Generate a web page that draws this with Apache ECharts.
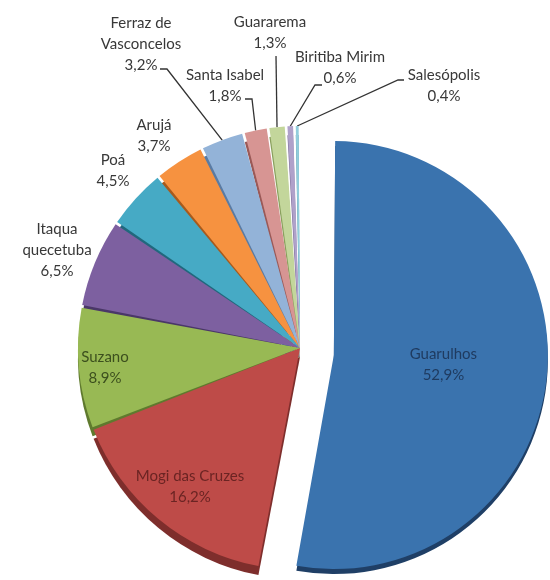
<!DOCTYPE html>
<html><head><meta charset="utf-8">
<script src="https://cdn.jsdelivr.net/npm/echarts@6/dist/echarts.min.js"></script>
<style>html,body{margin:0;padding:0;background:#fff}#c{width:550px;height:580px}</style>
</head><body><div id="c"></div>
<script>
// ---- data ----
const categories = ['Guarulhos', 'Mogi das Cruzes', 'Suzano', 'Itaqua\nquecetuba', 'Poá', 'Arujá',
  'Ferraz de\nVasconcelos', 'Santa Isabel', 'Guararema', 'Biritiba Mirim', 'Salesópolis'];
const values = [52.9, 16.2, 8.9, 6.5, 4.5, 3.7, 3.2, 1.8, 1.3, 0.6, 0.4];

// ---- styles ----
const faceColors = ['#3A73AE', '#BE4B48', '#98B954', '#7D60A0', '#46AAC5', '#F69240',
  '#93B3D8', '#D79593', '#C3D69B', '#AFA1CA', '#92CDDC'];
const sideColors = ['#1F3F66', '#7E2E2C', '#5F7A2E', '#4A3768', '#21687D', '#A85A1C',
  '#5A7BA3', '#9A5957', '#8AA05E', '#7C6C99', '#5A9AAB'];
const labelColors = ['#1F3B60', '#6B2423', '#3C4F1E', '#383838', '#383838', '#383838',
  '#383838', '#383838', '#383838', '#383838', '#383838'];
const insideLabel = [true, true, true, false, false, false, false, false, false, false, false];
const hasLeader = [false, false, false, false, false, false, true, true, true, true, true];

// label layout (text block centres) and leader-line bends
const labelSpots = [[500, 375], [190, 487], [105, 368], [57, 250], [113, 171], [154, 136],
  [141, 44], [225, 86], [270, 33], [340, 68], [444, 86]];
const leaderBends = {
  6: [[167, 69], [160, 69]],
  7: [[252, 99], [245, 99]],
  8: [[276, 56]],
  9: [[315, 85], [322, 85]],
  10: [[398, 80], [404, 80]]
};

const fmt = v => v.toFixed(1).replace('.', ',') + '%';
const FONT = 'Lato, "Open Sans", sans-serif';
const FS = 15;
const PAD = 0.7;
const CX = 300, CY = 348;

function buildData(visible, colors, withLabel, selectFirst) {
  return values.map((v, i) => {
    const vis = visible(i);
    const d = {
      name: categories[i],
      value: v,
      itemStyle: { color: vis ? colors[i] : 'rgba(0,0,0,0)' },
      label: { show: withLabel && vis, color: labelColors[i] },
      labelLine: { show: withLabel && vis && hasLeader[i] }
    };
    if (selectFirst && i === 0) d.selected = true;
    return d;
  });
}

const common = {
  type: 'pie',
  startAngle: 90,
  clockwise: true,
  padAngle: PAD,
  avoidLabelOverlap: false,
  animation: false,
  emphasis: { disabled: true },
  tooltip: { show: false }
};

const rest = i => i !== 0;
const main = i => i === 0;

const option = {
  backgroundColor: '#ffffff',
  series: [
    Object.assign({}, common, {
      name: 'depthRest', center: [CX, CY + 9], radius: 222, z: 1,
      selectedMode: false, label: { show: false }, labelLine: { show: false },
      data: buildData(rest, sideColors, false, false)
    }),
    Object.assign({}, common, {
      name: 'depthMain', center: [CX, CY + 9], radius: 214, z: 1,
      selectedMode: 'single', selectedOffset: 34,
      label: { show: false }, labelLine: { show: false },
      data: buildData(main, sideColors, false, true)
    }),
    Object.assign({}, common, {
      name: 'faceMain', center: [CX, CY + 4], radius: 214, z: 2,
      selectedMode: 'single', selectedOffset: 34,
      label: {
        show: true, position: 'inside', fontFamily: FONT, fontSize: FS, lineHeight: 21,
        formatter: p => p.name + '\n' + fmt(p.value)
      },
      labelLine: { show: false },
      labelLayout: p => ({ x: labelSpots[p.dataIndex][0], y: labelSpots[p.dataIndex][1], align: 'center', verticalAlign: 'middle' }),
      data: buildData(main, faceColors, true, true)
    }),
    Object.assign({}, common, {
      name: 'faceRest', center: [CX, CY], radius: 222, z: 3,
      selectedMode: false,
      label: {
        show: true, position: 'outside', fontFamily: FONT, fontSize: FS, lineHeight: 21,
        formatter: p => p.name + '\n' + fmt(p.value)
      },
      labelLine: { show: true, lineStyle: { color: '#333333', width: 1.3 } },
      labelLayout: p => {
        const i = p.dataIndex;
        const res = { x: labelSpots[i][0], y: labelSpots[i][1], align: 'center', verticalAlign: 'middle' };
        if (leaderBends[i] && p.labelLinePoints) {
          res.labelLinePoints = [p.labelLinePoints[0]].concat(leaderBends[i]);
        }
        return res;
      },
      data: buildData(rest, faceColors, true, false).map((d, i) => {
        if (insideLabel[i]) d.label.position = 'inside';
        return d;
      })
    })
  ]
};

const chart = echarts.init(document.getElementById('c'), null, { renderer: 'canvas' });
chart.setOption(option);
</script>
</body></html>
